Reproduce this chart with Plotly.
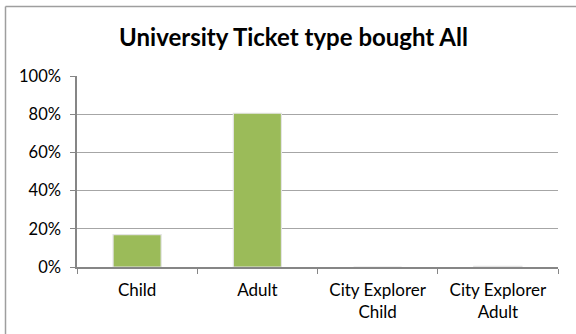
import plotly.graph_objects as go

categories = ["Child", "Adult", "City Explorer<br>Child", "City Explorer<br>Adult"]
values = [17.0, 80.5, 0.0, 0.3]
tick_vals = [0, 20, 40, 60, 80, 100]
tick_text = ["0%", "20%", "40%", "60%", "80%", "100%"]

W, H = 576, 334
ml, mr, mt, mb = 77, 18, 76, 67
pw, ph = W - ml - mr, H - mt - mb

fig = go.Figure()
fig.add_trace(go.Bar(
    x=categories, y=values,
    marker=dict(color="#9BBB59", line=dict(color="#E4E4E4", width=1.2)),
    width=0.4,
    hoverinfo="skip",
))

font = "Lato, Calibri, Carlito, sans-serif"
fig.update_layout(
    width=W, height=H,
    margin=dict(l=ml, r=mr, t=mt, b=mb),
    paper_bgcolor="white", plot_bgcolor="white",
    showlegend=False,
    title=dict(text="<b>University Ticket type bought All</b>",
               x=293.5 / W, xanchor="center", y=1 - 38 / H, yanchor="middle",
               font=dict(family=font, size=24, color="black")),
    font=dict(family=font, size=17, color="black"),
    xaxis=dict(showline=True, linecolor="#868686", linewidth=1.5,
               ticks="outside", tickson="boundaries", ticklen=5, tickcolor="#868686",
               showgrid=False, tickfont=dict(size=17), ticklabelstandoff=7),
    yaxis=dict(range=[0, 100], tickvals=tick_vals, ticktext=tick_text,
               showline=True, linecolor="#868686", linewidth=1.5,
               ticks="outside", ticklen=5, tickcolor="#868686",
               showgrid=True, gridcolor="#A6A6A6", gridwidth=1,
               zeroline=False, tickfont=dict(size=16.5), ticklabelstandoff=6),
)

# outer chart frame (left and top edges visible)
bx = (5.5 - ml) / pw
by = 1 + (mt - 6.5) / ph
fig.add_shape(type="line", xref="paper", yref="paper", x0=bx, x1=bx, y0=by, y1=-1,
              line=dict(color="#9E9E9E", width=1.5))
fig.add_shape(type="line", xref="paper", yref="paper", x0=bx, x1=2, y0=by, y1=by,
              line=dict(color="#9E9E9E", width=1.5))

fig.write_html("out.html", config={"displayModeBar": False},
               post_script="document.body.style.margin='0';document.body.style.overflow='hidden';")
